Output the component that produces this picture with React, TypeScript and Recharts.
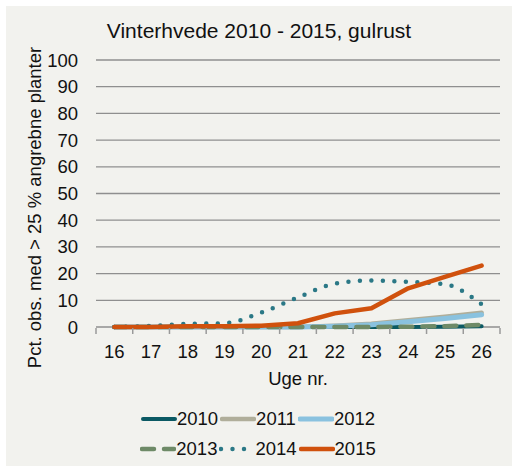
import React from "react";
import {
  LineChart,
  Line,
  XAxis,
  YAxis,
  CartesianGrid,
  Legend,
} from "recharts";

// Uge nr. 16-26
const weeks = [16, 17, 18, 19, 20, 21, 22, 23, 24, 25, 26];
const weekEdges = [15.5, 16.5, 17.5, 18.5, 19.5, 20.5, 21.5, 22.5, 23.5, 24.5, 25.5, 26.5];
const yTicks = [0, 10, 20, 30, 40, 50, 60, 70, 80, 90, 100];

const y2010 = [0, 0, 0, 0, 0, 0, 0, 0, 0, 0.1, 0.3];
const y2011 = [0, 0, 0, 0, 0, 0, 0.5, 1.2, 2.5, 3.8, 5.3];
const y2012 = [0, 0, 0, 0, 0, 0, 0.3, 0.8, 2.0, 3.2, 4.6];
const y2013 = [0, 0, 0, 0, 0, 0, 0, 0, 0.1, 0.3, 0.8];
const y2014 = [0, 0.4, 1.2, 1.4, 5.4, 11.1, 16.2, 17.4, 16.9, 16.0, 8.5];
const y2015 = [0, 0, 0.3, 0.3, 0.5, 1.4, 5.1, 7.0, 14.5, 18.8, 23.0];

const FONT = "'Liberation Sans', Arial, sans-serif";
const FS = 18.5;
const AXIS_GRAY = "#9a9a9a";

const series = [
  { key: "2010", color: "#0b5963", width: 4, dash: undefined, type: "linear" },
  { key: "2011", color: "#b0ae9a", width: 4.5, dash: undefined, type: "linear" },
  { key: "2012", color: "#8ac2df", width: 5, dash: undefined, type: "linear" },
  { key: "2013", color: "#6e8a67", width: 4.5, dash: "12 10", type: "linear" },
  { key: "2014", color: "#2b7886", width: 4.5, dash: "0 11.5", type: "monotone" },
  { key: "2015", color: "#d0510d", width: 4.5, dash: undefined, type: "linear" },
] as const;

const data = weeks.map((w, i) => ({
  week: w,
  "2010": y2010[i],
  "2011": y2011[i],
  "2012": y2012[i],
  "2013": y2013[i],
  "2014": y2014[i],
  "2015": y2015[i],
}));

const LegendRows = () => {
  const rows = [series.slice(0, 3), series.slice(3, 6)];
  return (
    <div style={{ fontFamily: FONT, fontSize: FS, color: "#111" }}>
      {rows.map((row, r) => (
        <div
          key={r}
          style={{ display: "flex", justifyContent: "center", alignItems: "center", height: 30 }}
        >
          {row.map((s) => (
            <div key={s.key} style={{ display: "flex", alignItems: "center", marginRight: 2 }}>
              <svg width={36} height={10}>
                <line
                  x1={2}
                  y1={5}
                  x2={34}
                  y2={5}
                  stroke={s.color}
                  strokeWidth={s.width}
                  strokeLinecap="round"
                  strokeDasharray={s.dash}
                />
              </svg>
              <span>{s.key}</span>
            </div>
          ))}
        </div>
      ))}
    </div>
  );
};

// y-akse tal, højrestillet lidt fra plottet
const YTick = ({ x, y, payload }: any) => (
  <text
    x={x}
    y={y}
    dx={-16}
    textAnchor="end"
    dominantBaseline="central"
    style={{ fontSize: FS, fill: "#111", fontFamily: FONT }}
  >
    {payload.value}
  </text>
);

// x-akse: streger mellem ugerne, tal midt i ugen
const XTick = ({ x, y, payload }: any) => {
  const v = payload.value;
  if (weekEdges.includes(v)) {
    return <line x1={x} x2={x} y1={y + 1} y2={y + 7} stroke={AXIS_GRAY} strokeWidth={1.5} />;
  }
  return (
    <text
      x={x}
      y={y + 18}
      dy="0.71em"
      textAnchor="middle"
      style={{ fontSize: FS, fill: "#111", fontFamily: FONT }}
    >
      {v}
    </text>
  );
};

export default function App() {
  return (
    <div
      style={{
        position: "absolute",
        left: 6,
        top: 6,
        width: 506,
        height: 460,
        background: "#f2f2ee",
      }}
    >
      <div
        style={{
          position: "absolute",
          top: 13,
          width: 506,
          textAlign: "center",
          fontFamily: FONT,
          fontSize: 21,
          color: "#111",
        }}
      >
        Vinterhvede 2010 - 2015, gulrust
      </div>
      <LineChart
        width={506}
        height={460}
        data={data}
        margin={{ top: 54, right: 12, left: 0, bottom: 79 }}
      >
        <CartesianGrid horizontal vertical={false} stroke="#8f8f8f" strokeWidth={1.3} />
        <XAxis
          type="number"
          dataKey="week"
          domain={[15.5, 26.5]}
          allowDataOverflow
          ticks={[...weekEdges, ...weeks].sort((a, b) => a - b)}
          interval={0}
          axisLine={false}
          tickLine={false}
          tickSize={0}
          tickMargin={0}
          height={60}
          tick={<XTick />}
          label={{
            value: "Uge nr.",
            position: "insideBottom",
            offset: 2,
            style: { fontSize: FS, fill: "#111", fontFamily: FONT },
          }}
        />
        <YAxis
          domain={[0, 100]}
          ticks={yTicks}
          width={90}
          axisLine={false}
          tickLine={false}
          tickSize={0}
          tick={<YTick />}
          label={({ viewBox }: any) => {
            const cx = viewBox.x + 28;
            const cy = viewBox.y + viewBox.height / 2 + 14;
            return (
              <text
                x={cx}
                y={cy}
                transform={`rotate(-90 ${cx} ${cy})`}
                textAnchor="middle"
                dominantBaseline="central"
                style={{ fontSize: FS, fill: "#111", fontFamily: FONT }}
              >
                Pct. obs. med &gt; 25 % angrebne planter
              </text>
            );
          }}
        />
        <Legend
          layout="horizontal"
          verticalAlign="middle"
          content={<LegendRows />}
          wrapperStyle={{ top: 398, left: 0, width: 506 }}
        />
        {series.map((s) => (
          <Line
            key={s.key}
            dataKey={s.key}
            type={s.type}
            stroke={s.color}
            strokeWidth={s.width}
            strokeDasharray={s.dash}
            strokeLinecap="round"
            strokeLinejoin="round"
            dot={false}
            activeDot={false}
            isAnimationActive={false}
          />
        ))}
      </LineChart>
    </div>
  );
}
